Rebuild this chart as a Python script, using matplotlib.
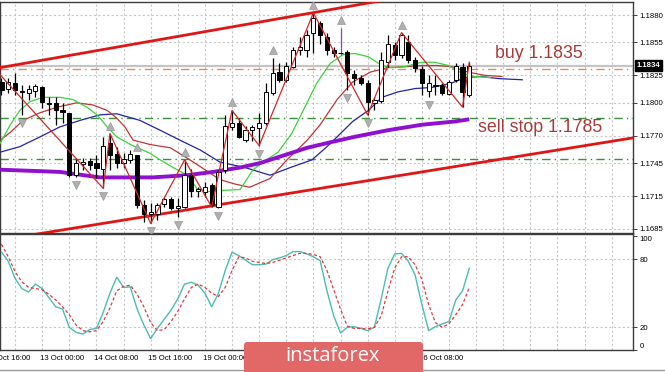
import numpy as np
import matplotlib
matplotlib.use("Agg")
import matplotlib.pyplot as plt
import matplotlib.transforms as mtransforms
from matplotlib.patches import FancyBboxPatch
from matplotlib.lines import Line2D

# EURUSD H4 candles (bar 0 = 12 Oct 20:00)
opens = [1.1819, 1.1813, 1.1818, 1.1811, 1.1809, 1.1811, 1.1814, 1.1800, 1.1800, 1.1793,
         1.1791, 1.1734, 1.1744, 1.1747, 1.1745, 1.1740, 1.1763, 1.1753, 1.1745, 1.1748,
         1.1752, 1.1707, 1.1699, 1.1699, 1.1708, 1.1712, 1.1704, 1.1705, 1.1734, 1.1720,
         1.1719, 1.1725, 1.1705, 1.1739, 1.1778, 1.1782, 1.1766, 1.1775, 1.1777, 1.1782,
         1.1809, 1.1828, 1.1821, 1.1833, 1.1848, 1.1848, 1.1864, 1.1873, 1.1860, 1.1848,
         1.1845, 1.1846, 1.1826, 1.1823, 1.1818, 1.1800, 1.1802, 1.1837, 1.1853, 1.1844,
         1.1855, 1.1839, 1.1831, 1.1811, 1.1816, 1.1816, 1.1808, 1.1821, 1.1833, 1.1807]
highs = [1.1823, 1.1823, 1.1827, 1.1816, 1.1816, 1.1817, 1.1815, 1.1805, 1.1805, 1.1800,
         1.1791, 1.1750, 1.1750, 1.1750, 1.1752, 1.1769, 1.1772, 1.1760, 1.1754, 1.1757,
         1.1752, 1.1711, 1.1709, 1.1709, 1.1714, 1.1714, 1.1713, 1.1748, 1.1740, 1.1723,
         1.1728, 1.1727, 1.1739, 1.1789, 1.1793, 1.1786, 1.1779, 1.1780, 1.1791, 1.1818,
         1.1841, 1.1836, 1.1837, 1.1851, 1.1860, 1.1866, 1.1882, 1.1875, 1.1864, 1.1851,
         1.1868, 1.1848, 1.1830, 1.1825, 1.1821, 1.1805, 1.1846, 1.1862, 1.1855, 1.1864,
         1.1862, 1.1842, 1.1834, 1.1825, 1.1825, 1.1818, 1.1821, 1.1836, 1.1836, 1.1837]
lows = [1.1807, 1.1809, 1.1807, 1.1789, 1.1803, 1.1805, 1.1795, 1.1789, 1.1780, 1.1782,
        1.1732, 1.1732, 1.1739, 1.1739, 1.1731, 1.1722, 1.1739, 1.1741, 1.1741, 1.1745,
        1.1704, 1.1691, 1.1690, 1.1693, 1.1705, 1.1702, 1.1696, 1.1704, 1.1714, 1.1714,
        1.1714, 1.1705, 1.1704, 1.1736, 1.1775, 1.1768, 1.1764, 1.1765, 1.1761, 1.1780,
        1.1807, 1.1819, 1.1819, 1.1832, 1.1844, 1.1842, 1.1845, 1.1854, 1.1844, 1.1842,
        1.1844, 1.1812, 1.1816, 1.1816, 1.1789, 1.1793, 1.1800, 1.1833, 1.1839, 1.1841,
        1.1836, 1.1828, 1.1807, 1.1805, 1.1807, 1.1807, 1.1807, 1.1819, 1.1796, 1.1805]
closes = [1.1812, 1.1819, 1.1812, 1.1810, 1.1813, 1.1815, 1.1801, 1.1799, 1.1793, 1.1792,
          1.1734, 1.1745, 1.1746, 1.1743, 1.1741, 1.1761, 1.1752, 1.1745, 1.1749, 1.1753,
          1.1707, 1.1699, 1.1700, 1.1707, 1.1712, 1.1704, 1.1706, 1.1734, 1.1720, 1.1721,
          1.1723, 1.1707, 1.1737, 1.1779, 1.1782, 1.1769, 1.1775, 1.1778, 1.1782, 1.1810,
          1.1827, 1.1821, 1.1834, 1.1848, 1.1851, 1.1862, 1.1877, 1.1862, 1.1848, 1.1845,
          1.1845, 1.1827, 1.1823, 1.1818, 1.1801, 1.1803, 1.1839, 1.1854, 1.1844, 1.1862,
          1.1839, 1.1832, 1.1818, 1.1818, 1.1815, 1.1809, 1.1819, 1.1834, 1.1810, 1.1834]

# alligator lines (jaw / teeth / lips), read at some bars
jaw_x = [-0.2, 2.7, 5.7, 8.6, 11.6, 14.5, 17.0, 20.4, 23.4, 26.3, 29.3, 32.2, 35.9, 39.6,
         42.6, 45.8, 48.0, 50.0, 51.8, 54.1, 56.1, 58.5, 61.0, 63.5, 66.4, 68.4, 70.6, 73.5, 76.8]
jaw_y = [1.1755, 1.1760, 1.1769, 1.1778, 1.1784, 1.1789, 1.1790, 1.1784, 1.1775, 1.1766,
         1.1757, 1.1746, 1.1741, 1.1734, 1.1741, 1.1748, 1.1760, 1.1772, 1.1783, 1.1793,
         1.1805, 1.1810, 1.1813, 1.1814, 1.1818, 1.1823, 1.1824, 1.1822, 1.1821]
teeth_x = [-0.2, 1.3, 3.2, 5.7, 8.2, 11.1, 13.5, 15.6, 17.0, 18.2, 19.4, 21.9, 24.9, 27.8,
           30.0, 32.2, 34.4, 36.6, 39.6, 42.1, 45.1, 47.0, 49.5, 51.8, 54.4, 56.9, 59.8,
           62.0, 64.2, 66.4, 68.8, 71.3, 73.8]
teeth_y = [1.1766, 1.1773, 1.1784, 1.1791, 1.1796, 1.1800, 1.1798, 1.1793, 1.1786, 1.1778,
           1.1766, 1.1762, 1.1759, 1.1748, 1.1739, 1.1730, 1.1726, 1.1723, 1.1731, 1.1748,
           1.1766, 1.1780, 1.1803, 1.1819, 1.1828, 1.1832, 1.1833, 1.1834, 1.1834, 1.1833,
           1.1828, 1.1825, 1.1824]
lips_x = [-0.2, 1.3, 2.7, 4.2, 6.1, 8.6, 10.5, 12.6, 14.1, 15.6, 17.0, 19.0, 21.9, 23.4,
          25.3, 27.4, 28.8, 30.3, 32.2, 35.2, 37.1, 38.6, 40.8, 42.8, 44.5, 46.5, 48.5,
          50.4, 52.1, 54.1, 56.1, 57.6, 59.5, 62.0, 63.9, 65.9, 67.9, 69.8, 72.1]
lips_y = [1.1763, 1.1780, 1.1793, 1.1801, 1.1805, 1.1805, 1.1803, 1.1796, 1.1789, 1.1778,
          1.1769, 1.1762, 1.1754, 1.1748, 1.1741, 1.1734, 1.1722, 1.1719, 1.1720, 1.1721,
          1.1739, 1.1746, 1.1755, 1.1772, 1.1793, 1.1818, 1.1836, 1.1844, 1.1845, 1.1842,
          1.1834, 1.1832, 1.1833, 1.1837, 1.1837, 1.1834, 1.1827, 1.1824, 1.1823]

# slow moving average (purple)
ma_x = [-0.2, 8.6, 14.5, 18.2, 22.3, 27.4, 31.2, 35.2, 38.1, 41.1, 45.1, 48.5, 52.1,
        57.0, 62.0, 66.9, 69.0]
ma_y = [1.1739, 1.1737, 1.1732, 1.1732, 1.1732, 1.1734, 1.1737, 1.1741, 1.1745, 1.1751,
        1.1759, 1.1764, 1.1769, 1.1775, 1.1780, 1.1783, 1.1785]

# zigzag
zz_x = [-1, 15, 16, 22, 27, 31, 34, 38, 46, 54, 59, 68, 69]
zz_y = [1.1831, 1.1722, 1.1772, 1.1690, 1.1748, 1.1705, 1.1793, 1.1761, 1.1882,
        1.1789, 1.1864, 1.1796, 1.1837]

# fractals
fr_up = [16, 20, 27, 34, 40, 46, 50, 59]
fr_down = [3, 11, 15, 22, 26, 32, 38, 51, 54, 63]

# channel (two points each)
chan_up_x, chan_up_y = [0, 54], [1.18323, 1.18909]
chan_dn_x, chan_dn_y = [0, 93], [1.16751, 1.17679]

# levels
bid = 1.1834
buy_level = 1.1831
green_levels = [1.1786, 1.1749]

# stochastic
stoch_k = [86, 78, 63, 54, 51, 58, 54, 46, 38, 36, 20, 15.5, 14, 18, 19, 33, 50, 64, 55,
           55.5, 36, 22, 10, 19, 27, 35, 45, 58, 59.5, 57, 50, 38, 50, 70, 86, 83, 79, 75,
           75, 75.5, 79.5, 81, 83, 86.5, 86.6, 84.5, 82, 78.5, 52, 30, 15, 20, 20.5, 19,
           17, 20, 45, 72, 84.5, 85, 78, 66, 40, 17, 20.5, 23, 25, 44, 52, 72]
stoch_d = [93, 82, 69, 60, 55, 54, 53, 49, 44, 38, 31, 22, 17, 16, 17, 25, 37, 52, 56, 57,
           49, 38, 24, 17, 18, 25, 34, 45, 55, 58, 55, 50, 47, 55, 70, 82, 81, 78, 77, 76,
           77, 79, 81, 83, 85, 85, 84, 82, 70, 53, 36, 21, 19, 19, 18.5, 20, 30, 52, 72,
           82, 82, 75, 62, 40, 24, 20, 23, 31, 40, 55]

price_ticks = [1.1685, 1.1715, 1.1745, 1.1770, 1.1800, 1.1825, 1.1855, 1.1880]
# labels that are not hidden under the badge
time_ticks = [-2, 6, 14, 22, 30, 62]
time_labels = ["12 Oct 16:00", "13 Oct 00:00", "14 Oct 08:00", "15 Oct 16:00",
               "19 Oct 00:00", "26 Oct 08:00"]

W, H = 665.0, 372.0
fig = plt.figure(figsize=(W / 100, H / 100), dpi=100)
ax = fig.add_axes([0, 1 - 233 / H, 633 / W, 231 / H])
ax2 = fig.add_axes([0, 1 - 350 / H, 633 / W, 116 / H])

XL = (-0.22, 93.14)
grid_kw = dict(color="#c8c8c8", lw=0.8, ls=(0, (2, 2)))
lab_font = dict(family="Liberation Sans", size=5.6)

# ---- main chart
ax.set_xlim(*XL)
ax.set_ylim(1.16813, 1.18919)
for gx in range(2, 94, 4):
    ax.axvline(gx, zorder=0, **grid_kw)
    ax2.axvline(gx, zorder=0, **grid_kw)
for gy in price_ticks:
    ax.axhline(gy, zorder=0, **grid_kw)

ax.axhline(bid, color="#c4c4c4", lw=1.6, zorder=1)
ax.axhline(buy_level, color="#e48a5c", lw=1.0, ls=(0, (6, 3, 1, 3)), zorder=2)
for lv in green_levels:
    ax.axhline(lv, color="#3d8f3d", lw=1.0, ls=(0, (6, 3, 1, 3)), zorder=2)

ax.plot(jaw_x, jaw_y, color="#2323a8", lw=0.9, zorder=3)
ax.plot(teeth_x, teeth_y, color="#c03535", lw=0.9, zorder=3)
ax.plot(lips_x, lips_y, color="#3bd23b", lw=0.9, zorder=3)
ax.plot(ma_x, ma_y, color="#9010d0", lw=2.8, zorder=3, solid_capstyle="butt")

# channel lines extended over whole chart
for cx, cy in [(chan_up_x, chan_up_y), (chan_dn_x, chan_dn_y)]:
    k = (cy[1] - cy[0]) / (cx[1] - cx[0])
    xs = np.array(XL)
    ax.plot(xs, cy[0] + k * (xs - cx[0]), color="#e01515", lw=2.0, zorder=4)

# candles
for i in range(len(opens)):
    o, h, l, c = opens[i], highs[i], lows[i], closes[i]
    wc = "#9040c0" if i == 50 else "black"
    ax.vlines(i, l, h, color=wc, lw=0.9, zorder=5)
    body = max(abs(c - o), 0.00004)
    ax.bar(i, body, bottom=min(o, c), width=0.62,
           color="white" if c >= o else "black", edgecolor="black", lw=0.7, zorder=6)

ax.plot(zz_x, zz_y, color="#d02828", lw=0.9, zorder=7)

up_y = [highs[i] + 0.00073 for i in fr_up]
dn_y = [lows[i] - 0.00073 for i in fr_down]
ax.plot(fr_up, up_y, ls="none", marker="^", ms=5.5, color="#b0b0b0", mec="#999999", mew=0.5, zorder=8)
ax.plot(fr_down, dn_y, ls="none", marker="v", ms=5.5, color="#b0b0b0", mec="#999999", mew=0.5, zorder=8)

ax.text(72.8, 1.18454, "buy 1.1835", color="#a83a3a", fontsize=12.8,
        family="Liberation Sans", va="center", ha="left", zorder=9)
ax.text(70.3, 1.17779, "sell stop 1.1785", color="#a83a3a", fontsize=12.8,
        family="Liberation Sans", va="center", ha="left", zorder=9)

ax.yaxis.tick_right()
ax.set_yticks(price_ticks)
ax.set_yticklabels(["%.4f" % p for p in price_ticks], fontdict=lab_font)
ax.tick_params(axis="y", length=3, pad=1.5, width=0.7, color="#404040")
ax.set_xticks([])
for s in ax.spines.values():
    s.set_color("#3c3c3c")
    s.set_linewidth(1.0)

ax.text(1.006, (bid - 1.16813) / (1.18919 - 1.16813), "%.4f" % bid, transform=ax.transAxes,
        color="white", fontsize=5.6, family="Liberation Sans", fontweight="bold",
        va="center", ha="left", zorder=10,
        bbox=dict(boxstyle="square,pad=0.2", fc="black", ec="black"))

# ---- stochastic
ax2.set_xlim(*XL)
ax2.set_ylim(1.1, 102)
for gy in [20, 80]:
    ax2.axhline(gy, zorder=0, **grid_kw)
bars = np.arange(len(stoch_k))
ax2.plot(bars, stoch_k, color="#4cbcb4", lw=1.0, zorder=3)
ax2.plot(bars, stoch_d, color="#e03a3a", lw=0.9, ls=(0, (2.5, 1.8)), zorder=3)

ax2.yaxis.tick_right()
ax2.set_yticks([0, 20, 80, 100])
ax2.set_yticklabels(["0", "20", "80", "100"], fontdict=lab_font)
ax2.get_yticklabels()[0].set_va("bottom")
ax2.get_yticklabels()[3].set_va("top")
ax2.tick_params(axis="y", length=3, pad=1.5, width=0.7, color="#404040")
ax2.set_xticks([])
for s in ax2.spines.values():
    s.set_color("#3c3c3c")
    s.set_linewidth(1.0)

trans = mtransforms.blended_transform_factory(ax2.transData, ax2.transAxes)
for tx, tl in zip(time_ticks, time_labels):
    ax2.text(tx - 0.35, -0.069, tl, transform=trans, ha="left", va="center",
             clip_on=False, family="Liberation Sans", fontsize=5.6)

fig.add_artist(Line2D([0, 1], [1 - 370 / H, 1 - 370 / H], color="#9a9a9a", lw=1.0))

# instaforex badge
badge = FancyBboxPatch((2.44, -0.1), 1.79, 0.4, boxstyle="round,pad=0,rounding_size=0.03",
                       transform=fig.dpi_scale_trans, fc="#e26868", ec="none", zorder=20)
fig.add_artist(badge)
fig.text(333 / W, 1 - 356 / H, "instaforex", color="white", fontsize=14.5,
         family="Open Sans", ha="center", va="center", zorder=21)

plt.savefig("out.png", dpi=100)
plt.close("all")
